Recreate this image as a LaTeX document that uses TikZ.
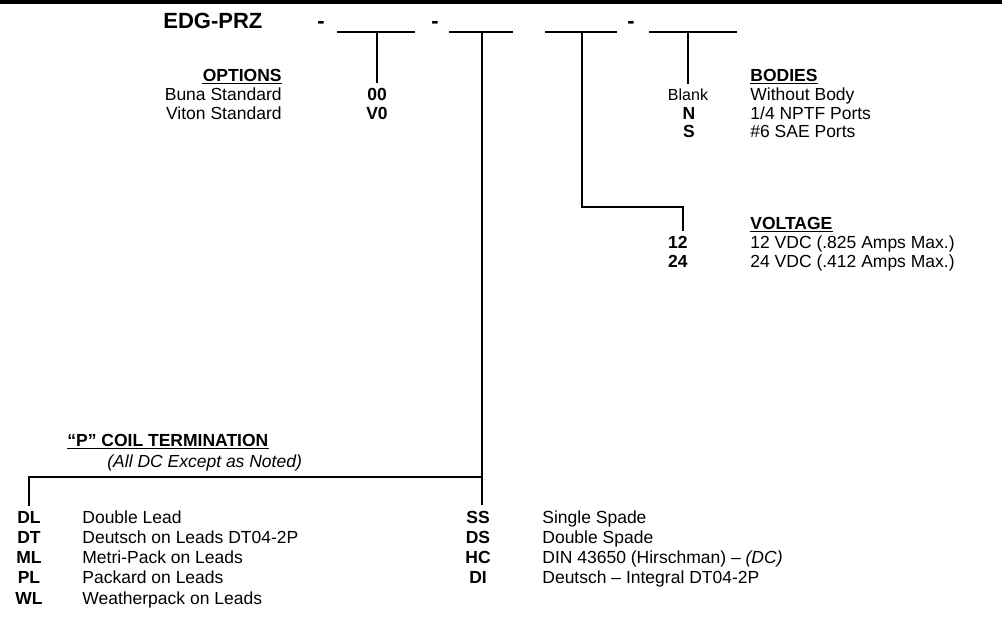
\documentclass[tikz,border=0pt]{standalone}
\usepackage{fontspec}
\setmainfont{Liberation Sans}

\tikzset{
  conn/.style={line width=1pt, shorten >=2.5pt},
  codetxt/.style={font=\fontsize{8.75}{10.5}\selectfont\bfseries, inner sep=0pt, anchor=base},
  desctxt/.style={font=\fontsize{8.75}{10.5}\selectfont, inner sep=0pt, anchor=base west},
  headtxt/.style={font=\fontsize{8.75}{10.5}\selectfont\bfseries, inner sep=0pt, anchor=base west},
  parttxt/.style={font=\fontsize{11}{13}\selectfont\bfseries, inner sep=0pt, anchor=base},
}

\begin{document}
\begin{tikzpicture}[x=0.5pt, y=-0.5pt]
\useasboundingbox (0,0) rectangle (1002,627);

% Draw top rule
\draw[line width=2pt] (0,2) -- (1002,2);

% Part number with blanks
\node[parttxt, anchor=base west] (part) at (163,28) {EDG-PRZ};
\node[parttxt] (dash1) at (321,28) {-};
\node[parttxt] (dash2) at (435,28) {-};
\node[parttxt] (dash3) at (631,28) {-};

\draw[line width=1pt] (337,32) -- (415,32);
\draw[line width=1pt] (449,32) -- (513,32);
\draw[line width=1pt] (545,32) -- (617,32);
\draw[line width=1pt] (649,32) -- (737,32);
\coordinate (blank1) at (377,32);
\coordinate (blank2) at (482,32);
\coordinate (blank3) at (582,32);
\coordinate (blank4) at (688,32);

% Options
\node[headtxt, anchor=base east] (opthead) at (282,81) {OPTIONS};
\node[desctxt, anchor=base east] (buna) at (282,100.5) {Buna Standard};
\node[desctxt, anchor=base east] (viton) at (282,119) {Viton Standard};
\node[codetxt] (c00) at (377,100.5) {00};
\node[codetxt] (cV0) at (377,119) {V0};

% Bodies
\node[headtxt] (bodhead) at (750,81) {BODIES};
\node[font=\fontsize{8}{10}\selectfont, inner sep=0pt, anchor=base] (cBlank) at (688,100.5) {Blank};
\node[codetxt] (cN) at (689,119) {N};
\node[codetxt] (cS) at (689,137.5) {S};
\node[desctxt] (nobody) at (750,100.5) {Without Body};
\node[desctxt] (nptf) at (750,119) {1/4 NPTF Ports};
\node[desctxt] (sae) at (750,137.5) {\#6 SAE Ports};

% Voltage
\node[headtxt] (volthead) at (750,229) {VOLTAGE};
\node[codetxt, anchor=base east] (c12) at (688,248.5) {12};
\node[codetxt, anchor=base east] (c24) at (688,267) {24};
\node[desctxt] (v12) at (750,248.5) {12 VDC (.825 Amps Max.)};
\node[desctxt] (v24) at (750,267) {24 VDC (.412 Amps Max.)};

% Coil termination
\node[headtxt] (coilhead) at (67,446) {“P” COIL TERMINATION};
\node[font=\fontsize{8.75}{10.5}\selectfont\itshape, inner sep=0pt, anchor=base west] (coilnote) at (107,467) {(All DC Except as Noted)};

\node[codetxt] (cDL) at (29,523) {DL};
\node[codetxt] (cDT) at (29,543.25) {DT};
\node[codetxt] (cML) at (29,563.5) {ML};
\node[codetxt] (cPL) at (29,583.75) {PL};
\node[codetxt] (cWL) at (29,604) {WL};
\node[desctxt] (tDL) at (82,523) {Double Lead};
\node[desctxt] (tDT) at (82,543.25) {Deutsch on Leads DT04-2P};
\node[desctxt] (tML) at (82,563.5) {Metri-Pack on Leads};
\node[desctxt] (tPL) at (82,583.75) {Packard on Leads};
\node[desctxt] (tWL) at (82,604) {Weatherpack on Leads};

\node[codetxt] (cSS) at (478,523) {SS};
\node[codetxt] (cDS) at (478,543.25) {DS};
\node[codetxt] (cHC) at (478,563.5) {HC};
\node[codetxt] (cDI) at (478,583.75) {DI};
\node[desctxt] (tSS) at (542,523) {Single Spade};
\node[desctxt] (tDS) at (542,543.25) {Double Spade};
\node[desctxt] (tHC) at (542,563.5) {DIN 43650 (Hirschman) -- \textit{(DC)}};
\node[desctxt] (tDI) at (542,583.75) {Deutsch -- Integral DT04-2P};

% Underline the headings
\foreach \h in {opthead, bodhead, volthead, coilhead} {
    \draw[line width=0.7pt] ([yshift=-1.3pt]\h.base west) -- ([yshift=-1.3pt]\h.base east);
}

% Draw connectors from blanks to codes
\draw[conn] (blank1) -- (blank1 |- c00.north);
\draw[conn] (blank4) -- (blank4 |- cBlank.north);
\coordinate (voltbend) at (683,207);
\draw[conn] (blank3) |- (voltbend) -- (voltbend |- c12.north);
\coordinate (coilbend) at (482,477);
\coordinate (coilend) at (29,477);
\draw[conn] (blank2) -- (blank2 |- cSS.north);
\draw[conn] (coilbend) -- (coilend) -- (coilend |- cDL.north);

\end{tikzpicture}
\end{document}
